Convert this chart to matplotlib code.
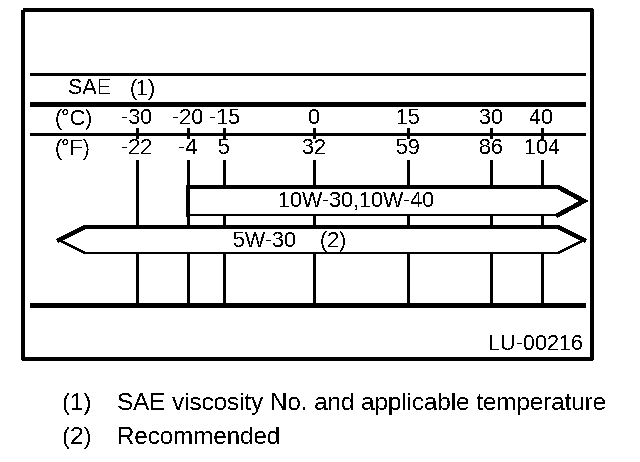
import matplotlib
matplotlib.use('Agg')
import matplotlib.pyplot as plt
import numpy as np

# temperature scale of the chart (schematic, not linear)
celsius = [-30, -20, -15, 0, 15, 30, 40]
fahrenheit = [-22, -4, 5, 32, 59, 86, 104]
major_c = [-20, 0, 15, 30]          # drawn with heavy lines

# oil grades: label, from degC, to degC -- None = arrow open at that end
grades = ['10W-30,10W-40', '5W-30    (2)']
grade_from = [-20, None]
grade_to = [None, None]

notes_num = ['(1)', '(2)']
notes_txt = ['SAE viscosity No. and applicable temperature', 'Recommended']

plt.rcParams['font.family'] = ['Liberation Sans', 'DejaVu Sans']
plt.rcParams['text.antialiased'] = False

# position of each scale tick across the panel (pixels)
scale_px = [137, 188, 224, 314, 408, 491, 542]


def tx(c):
    return np.interp(c, celsius, scale_px)


fig = plt.figure(figsize=(6.4, 4.62), dpi=100)
ax = fig.add_axes([0, 0, 1, 1])
ax.set_xlim(0, 640)
ax.set_ylim(462, 0)
ax.axis('off')

FS = 15.5
k = dict(color='black', antialiased=False, solid_capstyle='butt')

# frame
ax.plot([23, 592, 592, 23, 23], [10, 10, 359, 359, 10], lw=1.6, **k)
# horizontal rules
ax.plot([30, 585], [74, 74], lw=1.0, **k)
ax.plot([30, 585], [104, 104], lw=2.4, **k)
ax.plot([30, 585], [134, 134], lw=1.0, **k)
ax.plot([30, 585], [305, 305], lw=2.4, **k)

ax.text(68, 89, 'SAE', fontsize=FS, va='center')
ax.text(130, 89, '(1)', fontsize=FS, va='center')
ax.text(55, 119, '(°C)', fontsize=FS, va='center')
ax.text(55, 149, '(°F)', fontsize=FS, va='center')

for c, f in zip(celsius, fahrenheit):
    x = tx(c)
    w = 2.0 if c in major_c else 1.0
    ax.text(x, 119, str(c), fontsize=FS, ha='center', va='center')
    ax.text(x, 149, str(f), fontsize=FS, ha='center', va='center')
    ax.plot([x, x], [128, 138], lw=w, **k)
    ax.plot([x, x], [160, 305], lw=w, **k)

# grade arrows
rows = [(187, 215), (227, 253)]
label_shift = [-30, -32]
right_tip, head = 584, 26
left_tip = 59
for (top, bot), lab, c0, c1, dx in zip(rows, grades, grade_from, grade_to,
                                       label_shift):
    mid = (top + bot) / 2
    xs, ys = [], []
    if c0 is None:
        xs += [left_tip, left_tip + head]
        ys += [mid, top]
    else:
        xs += [tx(c0), tx(c0)]
        ys += [bot, top]
    xr = right_tip if c1 is None else tx(c1)
    xs += [xr - head, xr, xr - head]
    ys += [top, mid, bot]
    if c0 is None:
        xs += [left_tip + head, left_tip]
        ys += [bot, mid]
    else:
        xs += [tx(c0)]
        ys += [bot]
    ax.fill(xs, ys, facecolor='white', edgecolor='black', lw=1.0, zorder=3,
            antialiased=False)
    # heavier upper outline
    n = 4 if c0 is None else 5
    ax.plot(xs[:n], ys[:n], lw=2.4, zorder=4, color='black',
            antialiased=False, solid_joinstyle='miter')
    x_left = left_tip if c0 is None else tx(c0)
    ax.text((x_left + xr) / 2 + dx, mid + 1, lab,
            fontsize=FS, ha='center', va='center', zorder=5)

ax.text(583, 344, 'LU-00216', fontsize=FS, ha='right', va='center')

for i, (n, t) in enumerate(zip(notes_num, notes_txt)):
    y = 404 + i * 34
    ax.text(63, y, n, fontsize=17.4, va='center')
    ax.text(117, y, t, fontsize=17.4, va='center')

fig.savefig('out.png', dpi=100)
